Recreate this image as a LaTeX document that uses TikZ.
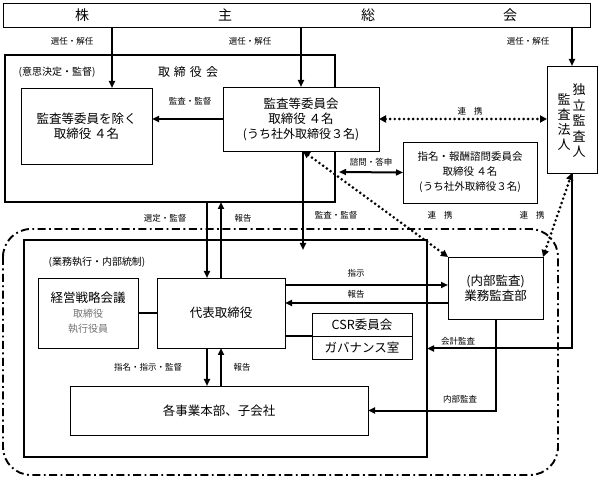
\documentclass[tikz,border=0pt]{standalone}
\usepackage{fontspec}
\setmainfont{Noto Sans CJK JP}
\usetikzlibrary{arrows.meta,calc}
\tikzset{
  box/.style={draw, line width=0.8pt, fill=white, inner sep=0pt, outer sep=0pt, align=center, font=\fontsize{12.5}{15}\selectfont},
  arr/.style={line width=2pt, -{Triangle[length=7pt,width=6pt]}},
  dblarr/.style={line width=2pt, {Triangle[length=7pt,width=6pt]}-{Triangle[length=7pt,width=6pt]}},
  dotarr/.style={line width=2.9pt, dash pattern=on 0pt off 4.6pt, line cap=round, {Triangle[length=7pt,width=7pt]}-{Triangle[length=7pt,width=7pt]}},
  lbl/.style={font=\fontsize{8.5}{10}\selectfont, inner sep=1pt},
  note/.style={font=\fontsize{10}{12}\selectfont, inner sep=1pt},
  big/.style={font=\fontsize{14}{16}\selectfont, inner sep=0pt}
}
\begin{document}
\begin{tikzpicture}[x=1pt,y=-1pt]
\useasboundingbox (0,0) rectangle (600,478);
% dash-dot boundary
\draw[line width=1.9pt, dash pattern=on 8pt off 3.5pt on 1.8pt off 3.5pt, rounded corners=28pt] (3,229) rectangle (558,475);
% outer boxes
\node[draw, line width=1.2pt, inner sep=0pt, outer sep=0pt, minimum width=330pt, minimum height=147pt] (board) at (170,128.5) {};
\node[draw, line width=1.2pt, inner sep=0pt, outer sep=0pt, minimum width=403pt, minimum height=217pt] (exec) at (225.5,348.5) {};
\node[box, minimum width=587pt, minimum height=24pt] (sh) at (296.5,15) {};
\node[big] (c1) at (82,15) {株};
\node[big] (c2) at (225,15) {主};
\node[big] (c3) at (368,15) {総};
\node[big] (c4) at (510,15) {会};
% labels in boxes
\node[note] (bl1) at (57,72) {(意思決定・監督)};
\node[font=\fontsize{12}{14}\selectfont, inner sep=0pt] (bl2) at (188,72) {取\hspace{4pt}締\hspace{4pt}役\hspace{4pt}会};
\node[note] (el1) at (97,262) {(業務執行・内部統制)};
% boxes
\node[box, minimum width=131pt, minimum height=76pt] (dirs) at (86.5,126) {監査等委員を除く\\取締役\ ４名};
\node[box, minimum width=156pt, minimum height=64pt] (acm) at (301,119) {監査等委員会\\取締役\ ４名\\{\fontsize{12}{15}\selectfont (うち社外取締役３名)}};
\node[box, minimum width=50pt, minimum height=107pt] (ind) at (572,119.5) {};
\node[font=\fontsize{13}{15.5}\selectfont, align=center, inner sep=0pt] (indr) at (579,121) {独\\立\\監\\査\\人};
\node[font=\fontsize{13}{15}\selectfont, align=center, inner sep=0pt] (indl) at (564,122.5) {監\\査\\法\\人};
\node[box, minimum width=134pt, minimum height=61pt, font=\fontsize{10.5}{15}\selectfont] (nom) at (470,172.5) {指名・報酬諮問委員会\\取締役\ ４名\\(うち社外取締役３名)};
\node[box, minimum width=100pt, minimum height=70pt] (strat) at (88,313) {経営戦略会議\\{\color[gray]{0.45}\fontsize{10}{14}\selectfont 取締役}\\{\color[gray]{0.45}\fontsize{10}{14}\selectfont 執行役員}};
\node[box, minimum width=128pt, minimum height=70pt] (ceo) at (221,313) {代表取締役};
\node[box, minimum width=100pt, minimum height=23pt] (csr) at (362,324.5) {CSR委員会};
\node[box, minimum width=100pt, minimum height=23pt] (gov) at (362,347.5) {ガバナンス室};
\node[box, minimum width=95pt, minimum height=62pt] (audit) at (495.5,288) {(内部監査)\\業務監査部};
\node[box, minimum width=298pt, minimum height=49pt] (biz) at (219,410.5) {各事業本部、子会社};
% helper coordinates
\coordinate (xa) at (112,0);
\coordinate (xb) at (207,0);
\coordinate (nq) at (339,172);
\coordinate (aa) at (303,250);
\coordinate (ya) at (0,285);
\coordinate (yb) at (0,303);
% connectors
\draw[arr] (sh.south -| xa) -- (dirs.north -| xa);
\draw[arr] (sh.south -| acm.north) -- (acm.north);
\draw[arr] (sh.south -| ind.north) -- (ind.north);
\draw[arr] (acm.west) -- (acm.west -| dirs.east);
\draw[dotarr] (acm.east) -- (acm.east -| ind.west);
\draw[dblarr] (nq) -- (nom.west);
\draw[arr] (acm.south -| aa) -- (aa);
\draw[dotarr] (acm.south -| aa) -- (audit.north west);
\draw[arr] (board.south -| xb) -- (ceo.north -| xb);
\draw[arr] (ceo.north) -- (ceo.north |- board.south);
\draw[arr] (ceo.south -| xb) -- (biz.north -| xb);
\draw[arr] (biz.north -| ceo.south) -- (ceo.south);
\draw[line width=2pt] (strat.east) -- (ceo.west);
\draw[arr] (ceo.east |- ya) -- (audit.west |- ya);
\draw[arr] (audit.west |- yb) -- (ceo.east |- yb);
\draw[line width=2pt] (ceo.east |- gov.north west) -- (gov.north west);
\draw[arr] (ind.south) |- (exec.east);
\draw[dotarr] (audit.north east) -- (ind.south);
\draw[arr] (audit.south) |- (biz.east);
% connector labels
\node[lbl] (l1) at (72,41) {選任・解任};
\node[lbl] (l2) at (250,41) {選任・解任};
\node[lbl] (l3) at (528,41) {選任・解任};
\node[lbl] (l4) at (190,101) {監査・監督};
\node[lbl] (l5) at (470,111) {連\hspace{8pt}携};
\node[lbl] (l6) at (371,162) {諮問・答申};
\node[lbl] (l7) at (165,218) {選定・監督};
\node[lbl] (l8) at (243,218) {報告};
\node[lbl] (l9) at (336,215) {監査・監督};
\node[lbl] (l10) at (440,215) {連\hspace{8pt}携};
\node[lbl] (l11) at (532,215) {連\hspace{8pt}携};
\node[lbl] (l12) at (356,273) {指示};
\node[lbl] (l13) at (356,294) {報告};
\node[lbl] (l14) at (458,341) {会計監査};
\node[lbl] (l15) at (460,399) {内部監査};
\node[lbl] (l16) at (148,367) {指名・指示・監督};
\node[lbl] (l17) at (242,367) {報告};
\end{tikzpicture}
\end{document}
